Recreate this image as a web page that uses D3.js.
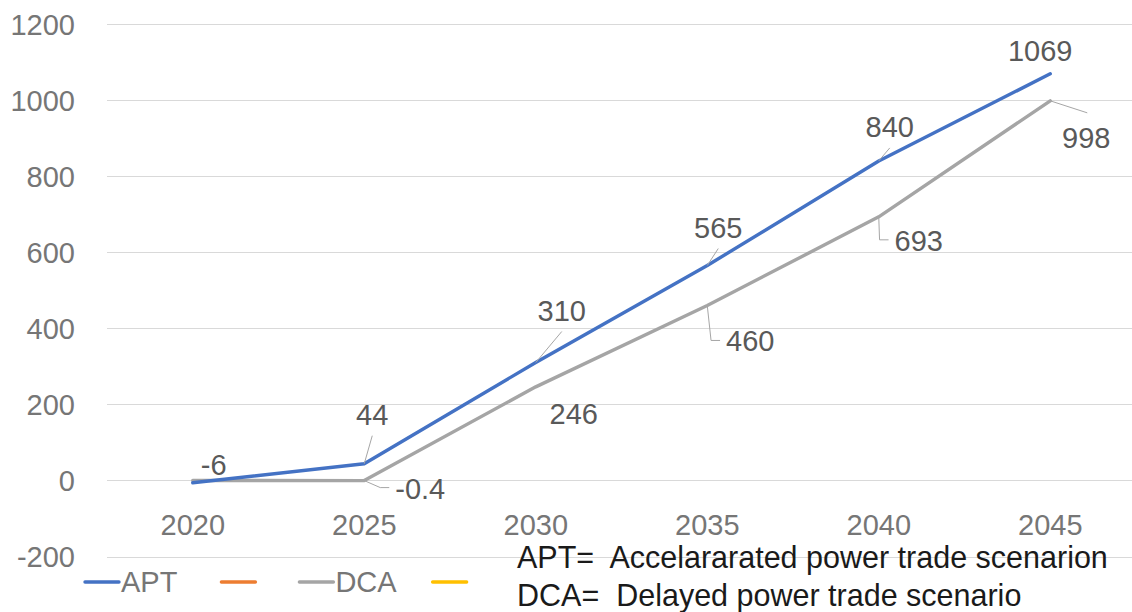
<!DOCTYPE html>
<html>
<head>
<meta charset="utf-8">
<script src="https://cdn.jsdelivr.net/npm/d3@7"></script>
<style>
  html, body { margin: 0; padding: 0; background: #fff; }
  svg { display: block; font-family: "Liberation Sans", Arial, sans-serif; }
</style>
</head>
<body>
<div id="chart"></div>
<script>
// chart data
const years = ['2020', '2025', '2030', '2035', '2040', '2045'];
const aptValues = [-6, 44, 310, 565, 840, 1069];
const dcaValues = [0, -0.4, 246, 460, 693, 998];
const aptLabels = ['-6', '44', '310', '565', '840', '1069'];
const dcaLabels = [null, '-0.4', '246', '460', '693', '998'];
const yTicks = [-200, 0, 200, 400, 600, 800, 1000, 1200];
const legendNames = ['APT', '', 'DCA', ''];
const noteLines = [
    'APT=  Accelararated power trade scenarion',
    'DCA=  Delayed power trade scenario'
];

// label placement (offset of label centre/baseline from its point, leader kind)
const aptLabelLayout = [
    { dx: 21, dy: -8, leader: 'none' },
    { dx: 8, dy: -39, leader: 'up' },
    { dx: 26, dy: -42, leader: 'up' },
    { dx: 11, dy: -28, leader: 'up' },
    { dx: 11, dy: -24, leader: 'up' },
    { dx: -10, dy: -13, leader: 'none' }
];
const dcaLabelLayout = [
    null,
    { dx: 56, dy: 18, leader: 'elbow' },
    { dx: 38, dy: 37, leader: 'none' },
    { dx: 43, dy: 46, leader: 'elbow' },
    { dx: 40, dy: 34, leader: 'elbow' },
    { dx: 36, dy: 47, leader: 'down' }
];

const width = 1132;
const height = 612;
const colors = { apt: '#4472C4', orange: '#ED7D31', dca: '#A5A5A5', yellow: '#FFC000' };
const legendColors = [colors.apt, colors.orange, colors.dca, colors.yellow];

const svg = d3.select('#chart').append('svg')
    .attr('width', width)
    .attr('height', height);

const x = d3.scaleBand().domain(years).range([107, 1136]);
const xc = d => x(d) + x.bandwidth() / 2;
const y = d3.scaleLinear().domain([-200, 1200]).range([556.5, 24]);

// gridlines
svg.append('g')
    .selectAll('line')
    .data(yTicks)
    .enter()
    .append('line')
    .attr('x1', 107)
    .attr('x2', width)
    .attr('y1', d => Math.round(y(d)) + 0.5)
    .attr('y2', d => Math.round(y(d)) + 0.5)
    .attr('stroke', '#d9d9d9')
    .attr('stroke-width', 1.2);

// y axis labels (plain hyphen minus, no thousands separator)
const yAxis = svg.append('g')
    .attr('transform', 'translate(75,0)')
    .call(d3.axisLeft(y).tickValues(yTicks).tickFormat(d => String(d)).tickSize(0).tickPadding(0));
yAxis.select('.domain').remove();
yAxis.selectAll('text')
    .attr('dy', '0.36em')
    .style('font-size', '29px')
    .style('font-family', '"Liberation Sans", Arial, sans-serif')
    .style('fill', '#767676');

// x axis labels, sitting just below the zero line
const xAxis = svg.append('g')
    .attr('transform', `translate(0,${y(0)})`)
    .call(d3.axisBottom(x).tickSize(0).tickPadding(0));
xAxis.select('.domain').remove();
xAxis.selectAll('text')
    .attr('y', 0)
    .attr('dy', 55)
    .style('font-size', '29px')
    .style('font-family', '"Liberation Sans", Arial, sans-serif')
    .style('fill', '#767676');

// series lines
const line = d3.line()
    .x((d, i) => xc(years[i]))
    .y(d => y(d));

const series = [
    { key: 'dca', values: dcaValues, color: colors.dca },
    { key: 'apt', values: aptValues, color: colors.apt }
];

svg.append('g')
    .selectAll('path')
    .data(series)
    .enter()
    .append('path')
    .attr('d', d => line(d.values))
    .attr('fill', 'none')
    .attr('stroke', d => d.color)
    .attr('stroke-width', 3.4)
    .attr('stroke-linejoin', 'round')
    .attr('stroke-linecap', 'round');

// data labels with leader lines
function drawLabels(values, labels, layout) {
    const g = svg.append('g');
    values.forEach((v, i) => {
        if (!labels[i] || !layout[i]) return;
        const px = xc(years[i]);
        const py = y(v);
        const lx = px + layout[i].dx;
        const ly = py + layout[i].dy;
        const text = g.append('text')
            .attr('x', lx)
            .attr('y', ly)
            .attr('text-anchor', 'middle')
            .style('font-size', '29px')
            .style('fill', '#595959')
            .text(labels[i]);
        const half = text.node().getComputedTextLength() / 2;
        let pts = null;
        if (layout[i].leader === 'up') {
            pts = [[lx, ly + 11], [px, py]];
        } else if (layout[i].leader === 'elbow') {
            pts = [[px, py], [lx - half - 15, ly - 11], [lx - half - 6, ly - 11]];
        } else if (layout[i].leader === 'down') {
            pts = [[px, py], [lx + 1, ly - 35]];
        }
        if (pts) {
            g.append('path')
                .attr('d', d3.line()(pts))
                .attr('fill', 'none')
                .attr('stroke', '#a6a6a6')
                .attr('stroke-width', 1);
        }
    });
}
drawLabels(aptValues, aptLabels, aptLabelLayout);
drawLabels(dcaValues, dcaLabels, dcaLabelLayout);

// legend
const legend = svg.append('g').attr('transform', 'translate(85,582)');
let cursor = 0;
legendNames.forEach((name, i) => {
    legend.append('line')
        .attr('x1', cursor)
        .attr('x2', cursor + 34)
        .attr('stroke', legendColors[i])
        .attr('stroke-width', 3.4)
        .attr('stroke-linecap', 'round');
    cursor += 34;
    if (name) {
        const t = legend.append('text')
            .attr('x', cursor + 2)
            .attr('dy', '0.36em')
            .style('font-size', '29px')
            .style('fill', '#767676')
            .text(name);
        cursor += 2 + t.node().getComputedTextLength();
    }
    cursor += name === 'DCA' ? 36 : 44;
});

// scenario notes
svg.append('g')
    .selectAll('text')
    .data(noteLines)
    .enter()
    .append('text')
    .attr('x', 517)
    .attr('y', (d, i) => 568 + i * 38)
    .attr('xml:space', 'preserve')
    .style('white-space', 'pre')
    .style('font-size', '30.5px')
    .style('fill', '#1a1a1a')
    .text(d => d);
</script>
</body>
</html>
